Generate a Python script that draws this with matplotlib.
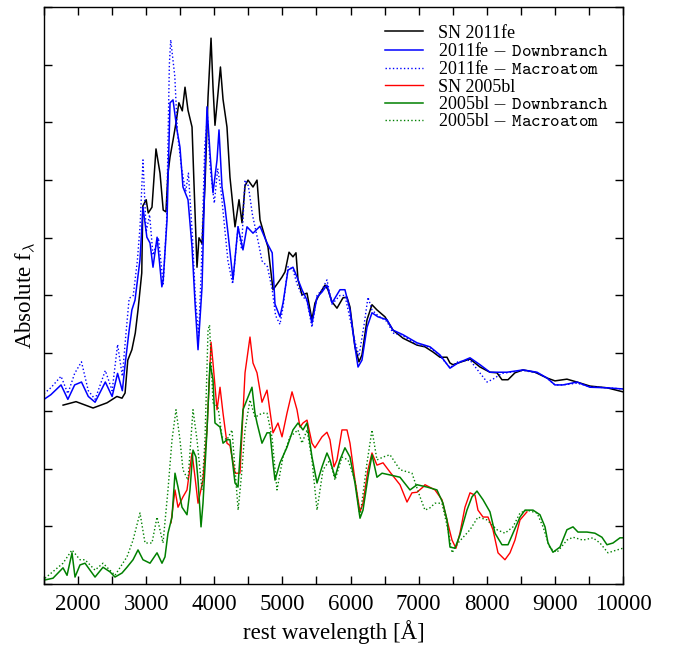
import matplotlib
matplotlib.use('Agg')
import matplotlib.pyplot as plt
from matplotlib.ticker import MultipleLocator, NullFormatter

plt.rcParams['font.family'] = ['Liberation Serif', 'DejaVu Serif']
plt.rcParams['mathtext.fontset'] = 'cm'

# SN 2011fe (observed, black)
fe_wl = [1780, 1970, 2220, 2425, 2570, 2645, 2690, 2730, 2790, 2840, 2880, 2935, 2950,
         3000, 3030, 3085, 3144, 3203, 3250, 3290, 3320, 3350, 3394, 3440, 3480, 3530,
         3570, 3614, 3673, 3700, 3746, 3775, 3820, 3863, 3908, 3952, 3981, 4010, 4054,
         4090, 4128, 4186, 4230, 4304, 4363, 4407, 4451, 4495, 4568, 4627, 4671, 4744,
         4788, 4862, 4935, 4994, 5038, 5097, 5155, 5199, 5229, 5287, 5361, 5434, 5478,
         5552, 5625, 5669, 5728, 5801, 5889, 5948, 5992, 6065, 6124, 6168, 6242, 6315,
         6388, 6506, 6623, 6770, 6976, 7093, 7211, 7313, 7416, 7460, 7504, 7754, 7901,
         8047, 8150, 8223, 8312, 8414, 8532, 8708, 8884, 9001, 9177, 9324, 9515, 9765, 10000]
fe_flux = [3.10, 3.16, 3.05, 3.14, 3.25, 3.22, 3.31, 3.88, 4.06, 4.35, 4.75, 5.39, 6.55,
           6.66, 6.43, 6.53, 7.54, 7.12, 6.48, 6.45, 7.12, 7.40, 7.69, 8.01, 8.34, 8.20,
           8.61, 8.21, 7.92, 7.00, 5.49, 6.00, 5.90, 6.90, 8.44, 9.46, 8.61, 7.95, 8.50,
           8.96, 8.40, 7.92, 7.05, 6.19, 6.66, 6.26, 6.90, 7.00, 6.88, 7.00, 6.31, 6.01,
           5.84, 5.10, 5.22, 5.32, 5.41, 5.75, 5.67, 5.74, 5.27, 5.01, 5.04, 4.58, 4.87,
           5.04, 5.18, 5.10, 4.89, 4.78, 4.96, 4.97, 4.80, 4.11, 3.85, 3.97, 4.58, 4.84,
           4.75, 4.63, 4.40, 4.26, 4.14, 4.11, 4.02, 3.93, 3.93, 3.83, 3.80, 3.90, 3.76,
           3.67, 3.66, 3.54, 3.54, 3.66, 3.71, 3.67, 3.57, 3.52, 3.55, 3.50, 3.43, 3.40, 3.33]

# 2011fe - Downbranch model (blue solid)
fe_db_wl = [1500, 1600, 1750, 1850, 1950, 2050, 2150, 2250, 2400, 2500, 2580, 2650, 2690,
            2750, 2790, 2836, 2909, 2953, 3010, 3056, 3100, 3160, 3230, 3250, 3306, 3350,
            3394, 3452, 3496, 3540, 3614, 3673, 3717, 3761, 3820, 3864, 3893, 3937, 3981,
            4040, 4069, 4113, 4157, 4201, 4275, 4348, 4421, 4480, 4568, 4671, 4774, 4850,
            4891, 4964, 5009, 5082, 5155, 5214, 5287, 5361, 5434, 5508, 5581, 5654, 5728,
            5845, 5918, 5992, 6065, 6110, 6168, 6242, 6315, 6403, 6535, 6623, 6770, 6976,
            7167, 7313, 7460, 7577, 7754, 7901, 8047, 8297, 8532, 8738, 8884, 9001, 9119,
            9324, 9515, 9765, 10000]
fe_db_flux = [3.20, 3.28, 3.45, 3.20, 3.45, 3.50, 3.25, 3.15, 3.50, 3.25, 3.65, 3.35, 3.80,
              4.40, 4.75, 4.92, 5.62, 6.53, 6.01, 5.91, 5.49, 6.01, 5.15, 5.27, 6.31, 8.34,
              8.39, 7.87, 7.57, 6.88, 6.66, 5.84, 4.87, 4.06, 5.15, 7.18, 8.27, 7.47, 6.78,
              7.35, 7.87, 6.88, 6.53, 6.08, 5.27, 6.19, 5.79, 6.19, 6.08, 6.20, 5.91, 5.74,
              4.85, 4.63, 4.87, 5.44, 5.49, 5.32, 5.10, 4.92, 4.52, 4.97, 5.06, 5.18, 4.87,
              5.10, 5.10, 4.75, 4.11, 3.76, 3.88, 4.45, 4.70, 4.63, 4.58, 4.40, 4.32, 4.18,
              4.11, 3.97, 3.74, 3.83, 3.92, 3.80, 3.67, 3.67, 3.71, 3.67, 3.57, 3.45, 3.45,
              3.50, 3.41, 3.40, 3.38]

# 2011fe - Macroatom model (blue dotted)
fe_ma_wl = [1500, 1600, 1750, 1850, 1950, 2050, 2150, 2250, 2400, 2500, 2580, 2650, 2700,
            2750, 2810, 2870, 2910, 2953, 3000, 3050, 3100, 3180, 3250, 3300, 3340, 3360,
            3420, 3460, 3520, 3580, 3620, 3680, 3720, 3770, 3810, 3860, 3900, 3940, 4000,
            4050, 4100, 4150, 4200, 4270, 4350, 4400, 4450, 4500, 4560, 4650, 4700, 4780,
            4850, 4900, 4964, 5009, 5082, 5155, 5214, 5287, 5361, 5434, 5508, 5581, 5654,
            5728, 5845, 5918, 5992, 6065, 6124, 6200, 6256, 6315, 6403, 6535, 6623, 6770,
            6976, 7167, 7313, 7460, 7577, 7754, 7871, 8004, 8091, 8223, 8532, 8738, 8884,
            9001, 9119, 9324, 9515, 9765, 10000]
fe_ma_flux = [3.30, 3.40, 3.60, 3.30, 3.65, 3.85, 3.35, 3.20, 3.70, 3.35, 4.15, 3.60, 4.30,
              4.95, 5.00, 5.60, 6.20, 7.35, 6.10, 6.40, 5.70, 6.00, 5.20, 6.30, 9.00, 9.43,
              8.80, 7.80, 7.20, 6.80, 7.12, 6.00, 5.00, 4.30, 5.50, 7.60, 8.10, 7.20, 6.60,
              7.20, 6.80, 6.20, 5.60, 5.20, 6.20, 5.80, 7.00, 6.90, 6.40, 5.90, 5.60, 5.50,
              5.10, 4.65, 4.50, 4.80, 5.50, 5.45, 5.20, 5.00, 4.90, 4.45, 5.00, 5.10, 5.27,
              4.85, 5.00, 5.00, 4.60, 4.20, 3.95, 4.50, 4.97, 4.75, 4.65, 4.55, 4.35, 4.30,
              4.15, 4.10, 3.95, 3.75, 3.85, 3.88, 3.70, 3.50, 3.55, 3.65, 3.70, 3.66, 3.57,
              3.45, 3.45, 3.48, 3.42, 3.40, 3.38]

# SN 2005bl (observed, red)
bl_wl = [3364, 3423, 3467, 3540, 3599, 3673, 3717, 3761, 3834, 3893, 3952, 3981, 4040,
         4084, 4128, 4186, 4230, 4304, 4377, 4451, 4524, 4568, 4627, 4700, 4774, 4862,
         4935, 4994, 5067, 5141, 5214, 5258, 5302, 5361, 5434, 5478, 5581, 5654, 5698,
         5757, 5801, 5874, 5948, 5992, 6065, 6139, 6183, 6256, 6315, 6388, 6477, 6579,
         6726, 6829, 6902, 6976, 7064, 7093, 7240, 7342, 7416, 7490, 7548, 7606, 7680,
         7754, 7827, 7871, 7945, 8018, 8091, 8165, 8267, 8341, 8414, 8488, 8590]
bl_flux = [1.06, 1.63, 1.33, 1.51, 1.63, 2.27, 1.85, 1.40, 1.80, 2.67, 4.19, 3.83, 3.02,
           3.41, 2.96, 2.44, 2.40, 1.92, 1.92, 3.66, 4.28, 3.83, 3.66, 3.15, 3.36, 2.62,
           2.79, 2.55, 2.96, 3.33, 3.02, 2.72, 2.79, 2.84, 2.44, 2.36, 2.55, 2.63, 2.50,
           2.03, 2.15, 2.67, 2.67, 2.44, 1.80, 1.25, 1.40, 1.98, 2.27, 2.06, 2.10, 1.94,
           1.72, 1.42, 1.58, 1.59, 1.68, 1.72, 1.63, 1.46, 1.11, 0.76, 0.62, 0.88, 1.33,
           1.58, 1.54, 1.28, 1.16, 1.16, 0.94, 0.54, 0.42, 0.54, 0.76, 1.11, 1.25]

# 2005bl - Downbranch model (green solid)
bl_db_wl = [1515, 1632, 1779, 1838, 1911, 1955, 2028, 2102, 2175, 2249, 2366, 2469, 2542,
            2645, 2718, 2807, 2880, 2953, 3056, 3159, 3232, 3276, 3320, 3379, 3423, 3467,
            3526, 3599, 3643, 3687, 3731, 3761, 3805, 3834, 3893, 3937, 3981, 4010, 4084,
            4128, 4186, 4230, 4304, 4348, 4421, 4495, 4553, 4597, 4627, 4700, 4774, 4818,
            4862, 4891, 4964, 5067, 5155, 5229, 5302, 5361, 5434, 5508, 5581, 5654, 5698,
            5772, 5845, 5918, 5992, 6065, 6139, 6183, 6256, 6315, 6388, 6462, 6579, 6726,
            6873, 6976, 7123, 7269, 7357, 7416, 7460, 7533, 7606, 7709, 7783, 7856, 7945,
            8047, 8121, 8223, 8312, 8385, 8488, 8561, 8679, 8781, 8855, 8899, 8972, 9075,
            9177, 9266, 9339, 9471, 9588, 9691, 9765, 9853, 9956, 10000]
bl_db_flux = [0.07, 0.10, 0.28, 0.15, 0.54, 0.12, 0.33, 0.36, 0.24, 0.12, 0.29, 0.21, 0.12,
              0.19, 0.29, 0.42, 0.59, 0.42, 0.36, 0.54, 0.36, 0.47, 0.88, 1.16, 1.92, 1.68,
              1.33, 1.20, 1.63, 2.32, 2.20, 1.80, 0.99, 1.40, 2.67, 3.83, 3.54, 2.79, 2.72,
              2.44, 2.50, 2.50, 1.75, 1.68, 3.02, 3.24, 3.41, 2.96, 2.79, 2.44, 2.62, 2.62,
              2.10, 1.80, 2.10, 2.37, 2.67, 2.79, 2.67, 2.79, 2.20, 1.75, 2.03, 2.27, 2.15,
              1.85, 2.15, 2.36, 2.20, 1.75, 1.14, 1.28, 1.85, 2.24, 1.85, 1.92, 1.89, 1.85,
              1.63, 1.72, 1.68, 1.63, 1.40, 1.11, 0.64, 0.62, 0.85, 1.28, 1.51, 1.61, 1.46,
              1.25, 0.88, 0.68, 0.68, 0.88, 1.16, 1.28, 1.28, 1.20, 0.99, 0.71, 0.55, 0.64,
              0.94, 0.99, 0.90, 0.90, 0.88, 0.81, 0.68, 0.71, 0.80, 0.80]

# 2005bl - Macroatom model (green dotted)
bl_ma_wl = [1515, 1779, 1911, 2028, 2102, 2249, 2366, 2542, 2718, 2807, 2909, 2983, 3085,
            3159, 3247, 3320, 3379, 3438, 3496, 3540, 3614, 3687, 3746, 3819, 3863, 3908,
            3930, 3981, 4054, 4113, 4186, 4260, 4290, 4350, 4400, 4451, 4524, 4597, 4700,
            4774, 4847, 4920, 5009, 5111, 5229, 5287, 5361, 5434, 5508, 5596, 5698, 5772,
            5874, 5962, 6065, 6139, 6242, 6315, 6388, 6477, 6579, 6726, 6902, 7020, 7093,
            7167, 7240, 7342, 7431, 7490, 7577, 7754, 7871, 8004, 8150, 8267, 8385, 8488,
            8590, 8738, 8826, 8928, 9031, 9177, 9266, 9412, 9559, 9662, 9780, 9912, 10000]
bl_ma_flux = [0.10, 0.36, 0.59, 0.42, 0.42, 0.24, 0.36, 0.15, 0.47, 0.76, 1.23, 0.71, 0.71,
              1.16, 0.71, 1.63, 2.50, 3.02, 2.50, 1.98, 1.80, 3.02, 2.50, 1.63, 2.50, 4.40,
              4.49, 3.14, 3.07, 2.55, 2.50, 2.67, 2.20, 1.28, 1.90, 2.67, 3.19, 2.89, 2.96,
              2.96, 2.55, 1.63, 2.20, 2.55, 2.67, 2.44, 2.67, 2.15, 1.28, 1.98, 2.15, 1.80,
              2.20, 2.15, 1.80, 1.16, 2.10, 2.67, 2.15, 2.20, 2.24, 1.98, 1.92, 1.51, 1.28,
              1.32, 1.40, 1.40, 0.94, 0.54, 0.71, 0.94, 1.16, 1.11, 0.94, 0.88, 0.99, 1.23,
              1.28, 1.23, 0.99, 0.62, 0.55, 0.76, 0.81, 0.76, 0.80, 0.71, 0.54, 0.59, 0.62]

fig = plt.figure(figsize=(6.73, 6.48), dpi=100)
ax = fig.add_axes([0.0654, 0.0988, 0.8603, 0.8904])

ax.plot(fe_wl, fe_flux, color='black', lw=1.1, label='SN 2011fe')
ax.plot(fe_db_wl, fe_db_flux, color='#0000ff', lw=1.1, label=r'2011fe $\mathbf{-}\ \mathtt{Downbranch}$')
ax.plot(fe_ma_wl, fe_ma_flux, color='#0000ff', lw=1.0, ls=':', label=r'2011fe $\mathbf{-}\ \mathtt{Macroatom}$')
ax.plot(bl_wl, bl_flux, color='#ff0000', lw=1.0, label='SN 2005bl')
ax.plot(bl_db_wl, bl_db_flux, color='#008000', lw=1.1, label=r'2005bl $\mathbf{-}\ \mathtt{Downbranch}$')
ax.plot(bl_ma_wl, bl_ma_flux, color='#008000', lw=1.0, ls=':', label=r'2005bl $\mathbf{-}\ \mathtt{Macroatom}$')

ax.set_xlim(1500, 10000)
ax.set_ylim(0, 10)
ax.xaxis.set_major_locator(MultipleLocator(1000))
ax.xaxis.set_minor_locator(MultipleLocator(500))
ax.yaxis.set_major_locator(MultipleLocator(1))
ax.yaxis.set_major_formatter(NullFormatter())
ax.tick_params(which='both', direction='in', top=True, right=True, length=6, width=1)
ax.tick_params(axis='x', labelsize=16.5, pad=7)
for s in ax.spines.values():
    s.set_linewidth(1.0)

ax.set_xlabel('rest wavelength [Å]', fontsize=16.5, labelpad=4)
ax.set_ylabel(r'Absolute f$_\lambda$', fontsize=16.5, labelpad=1)

leg = ax.legend(loc='upper left', frameon=False, fontsize=13, handlelength=2.1,
                handletextpad=0.8, labelspacing=0.02, borderaxespad=0.0,
                bbox_to_anchor=(0.577, 0.982))

fig.savefig('out.png', dpi=100)
